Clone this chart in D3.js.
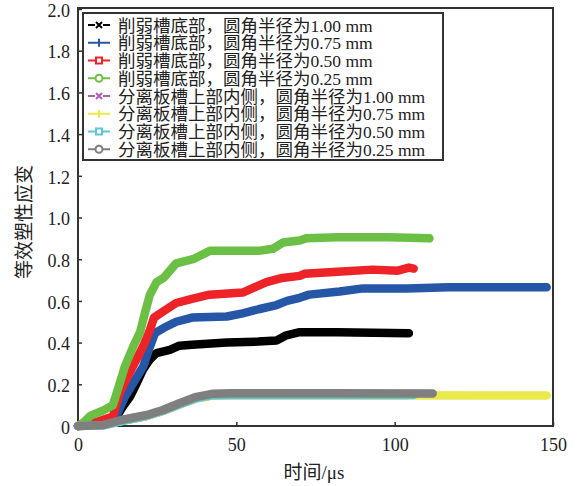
<!DOCTYPE html>
<html>
<head>
<meta charset="utf-8">
<script src="https://cdn.jsdelivr.net/npm/d3@7/dist/d3.min.js"></script>
<style>
  html, body { margin: 0; padding: 0; background: #fff; }
  svg { display: block; }
</style>
</head>
<body>
<svg id="chart" width="582" height="486"></svg>
<script>
// Equivalent plastic strain over time, [time µs, strain] pairs per case
const weakenR100 = [[0,0],[11,0.015],[14,0.09],[16.4,0.14],[18.5,0.205],[20.5,0.27],[22.7,0.32],[24.8,0.35],[29,0.365],[32,0.385],[36,0.39],[47,0.40],[57,0.405],[62.7,0.41],[65.8,0.435],[70,0.45],[82,0.45],[104.5,0.445]];
const weakenR075 = [[0,0],[8,0.02],[12,0.045],[14.8,0.14],[17.4,0.205],[20.6,0.285],[22.7,0.38],[24.3,0.445],[27,0.47],[31,0.50],[36,0.52],[47,0.525],[52,0.54],[57,0.56],[62.7,0.58],[66,0.60],[70,0.615],[73,0.63],[82.6,0.645],[90,0.66],[104,0.66],[117,0.665],[148,0.665]];
const weakenR050 = [[0,0],[6,0.02],[11,0.045],[13.2,0.16],[15.8,0.24],[18.5,0.32],[20.5,0.38],[22.7,0.46],[24,0.52],[27,0.55],[31,0.59],[36,0.61],[41.5,0.63],[52,0.64],[55,0.66],[59.5,0.69],[64.5,0.71],[70,0.72],[71.5,0.73],[82,0.74],[93,0.75],[101,0.745],[104.5,0.76],[106,0.755]];
const weakenR025 = [[0,0],[2,0.02],[4,0.05],[8,0.075],[11,0.10],[12.2,0.157],[14.8,0.285],[17.4,0.38],[19.6,0.45],[21.1,0.54],[22.7,0.63],[24.8,0.69],[27,0.71],[31,0.78],[36.3,0.80],[41.6,0.84],[57,0.84],[61.5,0.85],[64.7,0.88],[70,0.89],[72,0.90],[82,0.905],[98,0.905],[111,0.90]];
const plateR100 = [[0,0],[8,0.003],[14,0.025],[21.7,0.048],[26.8,0.072],[32,0.103],[37.4,0.133],[42.7,0.148],[48,0.149],[104,0.149]];
const plateR075 = [[0,0],[8,0.003],[14,0.025],[21.7,0.048],[26.8,0.072],[32,0.103],[37.4,0.133],[42.7,0.146],[48,0.147],[148,0.146]];
const plateR050 = [[0,0],[8,0.003],[14,0.025],[21.7,0.049],[26.8,0.073],[32,0.104],[37.4,0.134],[42.7,0.148],[48,0.149],[106,0.149]];
const plateR025 = [[0,0],[8,0.005],[14,0.03],[21.7,0.053],[26.8,0.077],[32,0.109],[37.4,0.14],[42.7,0.155],[48,0.157],[80,0.157],[112,0.156]];

const seriesNames = [
  "削弱槽底部，圆角半径为1.00 mm",
  "削弱槽底部，圆角半径为0.75 mm",
  "削弱槽底部，圆角半径为0.50 mm",
  "削弱槽底部，圆角半径为0.25 mm",
  "分离板槽上部内侧，圆角半径为1.00 mm",
  "分离板槽上部内侧，圆角半径为0.75 mm",
  "分离板槽上部内侧，圆角半径为0.50 mm",
  "分离板槽上部内侧，圆角半径为0.25 mm"
];
const seriesData = [weakenR100, weakenR075, weakenR050, weakenR025, plateR100, plateR075, plateR050, plateR025];
const seriesColors = ["#000000", "#2656a6", "#ed2328", "#6bbf45", "#b25cb6", "#e9e84c", "#5ec6d6", "#7f7f80"];
const seriesMarkers = ["x", "+", "square", "circle", "x", "+", "square", "circle"];

const xTicks = [0, 50, 100, 150];
const yTicks = [0, 0.2, 0.4, 0.6, 0.8, 1.0, 1.2, 1.4, 1.6, 1.8, 2.0];
const xTitle = "时间/μs";
const yTitle = "等效塑性应变";

const svg = d3.select("#chart");
const plot = { left: 78, right: 553, top: 9, bottom: 426 };
const x = d3.scaleLinear().domain([0, 150]).range([plot.left, plot.right]);
const y = d3.scaleLinear().domain([0, 2]).range([plot.bottom, plot.top]);

const serif = "'Liberation Serif', 'Times New Roman', 'Noto Sans CJK SC', serif";
const axisColor = "#333";

// Frame
svg.append("rect")
  .attr("x", plot.left).attr("y", plot.top - 1)
  .attr("width", plot.right - plot.left).attr("height", plot.bottom - plot.top + 1)
  .attr("fill", "none").attr("stroke", axisColor).attr("stroke-width", 2);

// Inward ticks and labels
const yAxis = d3.axisLeft(y).tickValues(yTicks).tickSizeInner(-4).tickSizeOuter(0).tickPadding(8)
  .tickFormat(d => d === 0 ? "0" : d3.format(".1f")(d));
const gy = svg.append("g").attr("transform", `translate(${plot.left},0)`).call(yAxis);
const xAxis = d3.axisBottom(x).tickValues(xTicks).tickSizeInner(-4).tickSizeOuter(0).tickPadding(12);
const gx = svg.append("g").attr("transform", `translate(0,${plot.bottom})`).call(xAxis);
[gx, gy].forEach(g => {
  g.select(".domain").remove();
  g.selectAll(".tick line").attr("stroke", axisColor).attr("stroke-width", 1.5);
  g.selectAll(".tick text").attr("fill", "#222").style("font-family", serif).style("font-size", "18px");
});
gy.selectAll(".tick text").attr("dy", "0.4em");

// Axis titles
svg.append("text")
  .attr("x", 314).attr("y", 479)
  .attr("text-anchor", "middle")
  .style("font-family", serif).style("font-size", "19px").attr("fill", "#222")
  .text(xTitle);
svg.append("text")
  .attr("transform", "translate(31,222) rotate(-90)")
  .attr("text-anchor", "middle")
  .style("font-family", serif).style("font-size", "19px").attr("fill", "#222")
  .text(yTitle);

// Curves
const line = d3.line().x(d => x(d[0])).y(d => y(d[1]));
const curves = svg.append("g");
seriesData.forEach((data, i) => {
  curves.append("path")
    .attr("d", line(data))
    .attr("fill", "none")
    .attr("stroke", seriesColors[i])
    .attr("stroke-width", 8.5)
    .attr("stroke-linejoin", "round")
    .attr("stroke-linecap", "round");
});

// Legend
function drawMarker(g, type, cx, cy, color) {
  if (type === "x") {
    g.append("path").attr("d", `M${cx-3},${cy-3}L${cx+3},${cy+3}M${cx-3},${cy+3}L${cx+3},${cy-3}`)
      .attr("stroke", color).attr("stroke-width", 2);
  } else if (type === "+") {
    g.append("path").attr("d", `M${cx-4},${cy}L${cx+4},${cy}M${cx},${cy-4}L${cx},${cy+4}`)
      .attr("stroke", color).attr("stroke-width", 2);
  } else if (type === "square") {
    g.append("rect").attr("x", cx - 3).attr("y", cy - 3).attr("width", 6).attr("height", 6)
      .attr("fill", "#fff").attr("stroke", color).attr("stroke-width", 2);
  } else {
    g.append("circle").attr("cx", cx).attr("cy", cy).attr("r", 3.5)
      .attr("fill", "#fff").attr("stroke", color).attr("stroke-width", 2);
  }
}

const legend = svg.append("g");
legend.append("rect")
  .attr("x", 83).attr("y", 13).attr("width", 360).attr("height", 147)
  .attr("fill", "#fff").attr("stroke", axisColor).attr("stroke-width", 2);
seriesNames.forEach((name, i) => {
  const cy = 25 + i * 17.75;
  const row = legend.append("g");
  row.append("path")
    .attr("d", `M88,${cy}L95,${cy}M103,${cy}L110,${cy}`)
    .attr("stroke", seriesColors[i]).attr("stroke-width", 2);
  drawMarker(row, seriesMarkers[i], 99, cy, seriesColors[i]);
  row.append("text")
    .attr("x", 118).attr("y", cy + 6.5)
    .style("font-family", serif).style("font-size", "17.5px").attr("fill", "#222")
    .text(name);
});
</script>
</body>
</html>
